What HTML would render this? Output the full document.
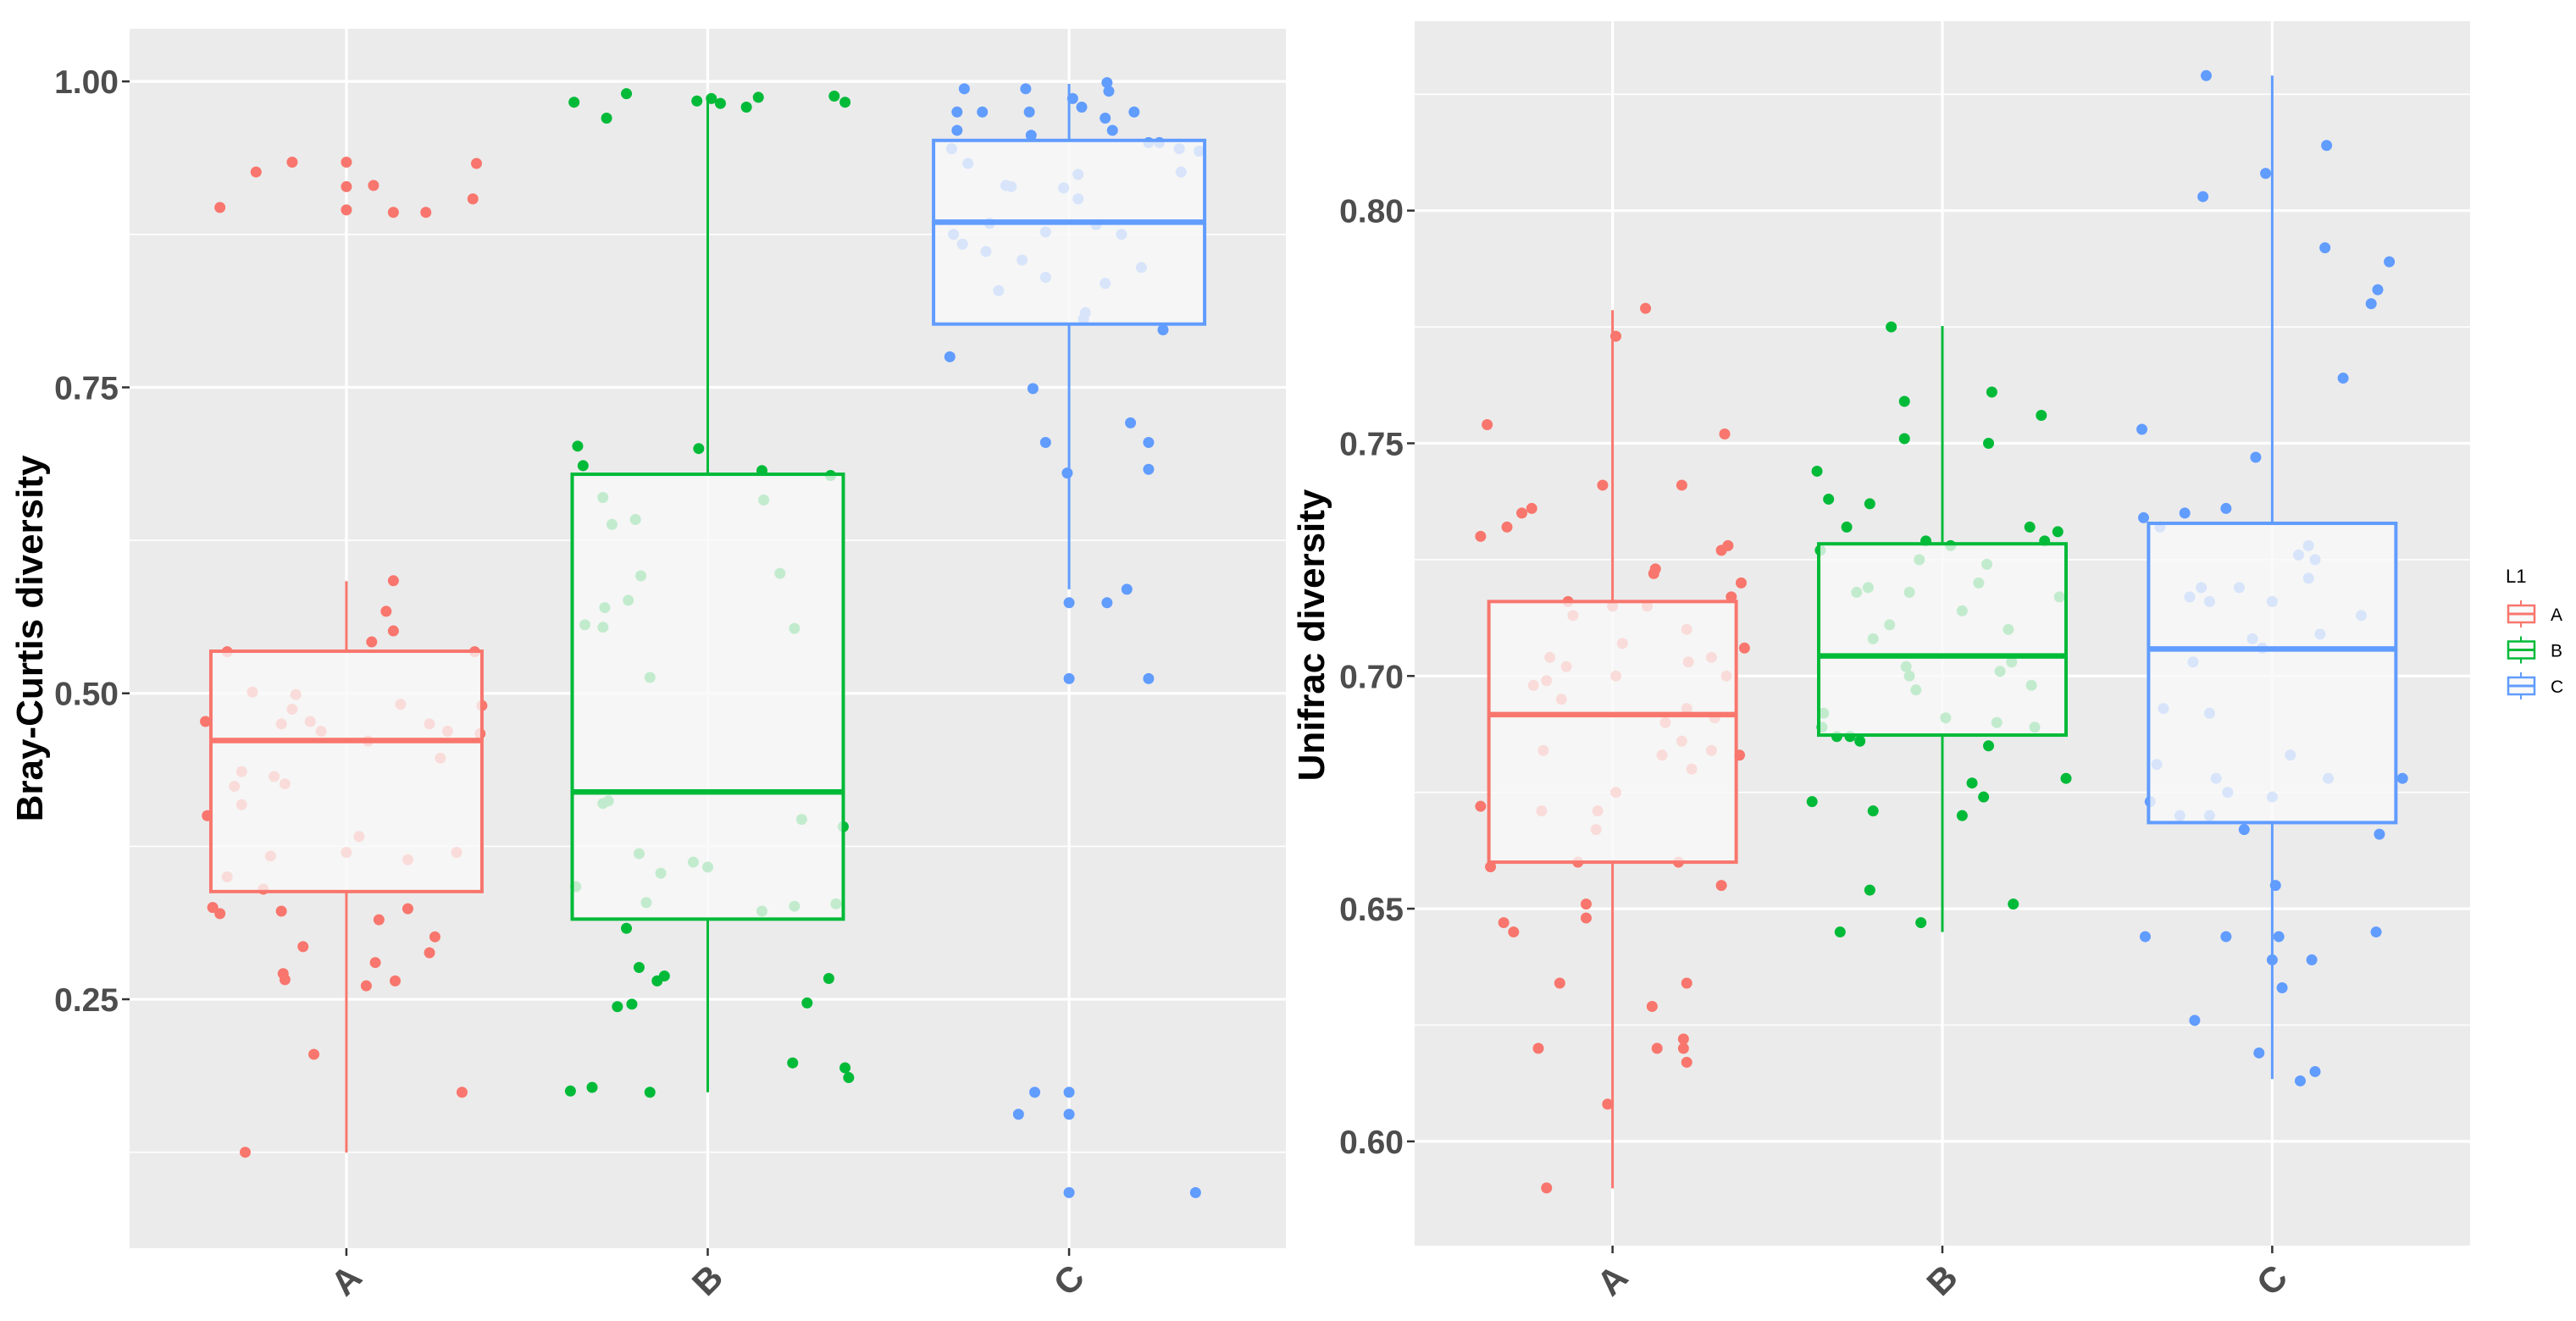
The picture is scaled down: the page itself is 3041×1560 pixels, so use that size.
<!DOCTYPE html>
<html><head><meta charset="utf-8"><style>
html,body{margin:0;padding:0;background:#fff;}
svg{display:block;font-family:"Liberation Sans",Arial,sans-serif;}
</style></head><body>
<svg id="chart" width="3041" height="1560" viewBox="0 0 3041 1560" xmlns="http://www.w3.org/2000/svg"></svg>
<script>
const categories = ["A","B","C"];
const colors = ["#F8766D","#00BA38","#619CFF"];
const leftTicks = [0.25,0.50,0.75,1.00];
const leftTickLabels = ["0.25","0.50","0.75","1.00"];
const rightTicks = [0.60,0.65,0.70,0.75,0.80];
const rightTickLabels = ["0.60","0.65","0.70","0.75","0.80"];
// box stats: [lowerWhisker, q1, median, q3, upperWhisker]
const leftBoxes = [[0.1247,0.338,0.4614,0.5344,0.5916],[0.174,0.3155,0.4194,0.679,0.9855],[0.585,0.8017,0.885,0.9518,0.998]];
const rightBoxes = [[0.5899,0.66,0.6917,0.716,0.7786],[0.645,0.6873,0.7043,0.7284,0.7752],[0.6134,0.6685,0.7058,0.7328,0.829]];
// jittered points: [jitter offset, value]
const leftA = [[-0.35,0.897],[-0.25,0.926],[-0.15,0.934],[0,0.934],[0,0.914],[0,0.895],[0.075,0.915],[0.13,0.893],[0.22,0.893],[0.35,0.904],[0.36,0.933],[0.13,0.592],[0.11,0.567],[0.13,0.551],[0.07,0.542],[-0.33,0.534],[0.355,0.534],[-0.26,0.501],[-0.14,0.499],[-0.15,0.487],[-0.18,0.475],[-0.10,0.477],[-0.07,0.469],[-0.39,0.477],[0.15,0.491],[0.23,0.475],[0.28,0.469],[0.375,0.490],[0.37,0.467],[0.06,0.461],[0.26,0.447],[-0.29,0.436],[-0.31,0.424],[-0.20,0.432],[-0.17,0.426],[-0.29,0.409],[-0.385,0.400],[0.035,0.383],[0,0.370],[-0.21,0.367],[0.17,0.364],[0.305,0.370],[-0.33,0.350],[-0.23,0.340],[-0.37,0.325],[-0.35,0.320],[-0.18,0.322],[0.17,0.324],[0.09,0.315],[0.245,0.301],[-0.12,0.293],[0.23,0.288],[0.08,0.280],[-0.175,0.271],[-0.17,0.266],[0.055,0.261],[0.135,0.265],[-0.09,0.205],[0.32,0.174],[-0.28,0.125]];
const leftB = [[-0.37,0.983],[-0.28,0.970],[-0.225,0.990],[-0.03,0.984],[0.01,0.986],[0.035,0.982],[0.107,0.979],[0.14,0.987],[0.35,0.988],[0.38,0.983],[-0.36,0.702],[-0.345,0.686],[-0.025,0.700],[0.15,0.682],[0.34,0.678],[-0.29,0.660],[0.155,0.658],[-0.265,0.638],[-0.20,0.642],[-0.185,0.596],[0.20,0.598],[-0.285,0.570],[-0.22,0.576],[-0.34,0.556],[-0.29,0.554],[0.24,0.553],[-0.16,0.513],[-0.29,0.410],[-0.275,0.412],[0.26,0.397],[0.375,0.391],[-0.19,0.369],[-0.04,0.362],[0,0.358],[-0.13,0.353],[-0.365,0.342],[-0.17,0.329],[0.24,0.326],[0.355,0.328],[0.15,0.322],[-0.225,0.308],[-0.19,0.276],[-0.14,0.265],[-0.12,0.269],[0.335,0.267],[-0.25,0.244],[-0.21,0.246],[0.275,0.247],[0.235,0.198],[0.38,0.194],[0.39,0.186],[-0.38,0.175],[-0.32,0.178],[-0.16,0.174]];
const leftC = [[-0.29,0.994],[-0.12,0.994],[0.105,0.999],[0.11,0.992],[0.01,0.986],[0.035,0.979],[-0.31,0.975],[-0.24,0.975],[-0.11,0.975],[0.10,0.970],[0.18,0.975],[-0.31,0.960],[0.12,0.960],[-0.105,0.956],[-0.325,0.945],[0.22,0.950],[0.25,0.950],[0.305,0.945],[0.36,0.943],[-0.28,0.933],[0.31,0.926],[0.025,0.924],[-0.175,0.915],[-0.16,0.914],[-0.015,0.913],[0.025,0.904],[-0.22,0.884],[-0.065,0.877],[0.075,0.883],[-0.32,0.875],[0.145,0.875],[-0.295,0.867],[-0.23,0.861],[-0.13,0.854],[0.20,0.848],[-0.065,0.840],[0.10,0.835],[-0.195,0.829],[0.045,0.811],[0.04,0.806],[0.26,0.797],[-0.33,0.775],[-0.10,0.749],[0.17,0.721],[-0.065,0.705],[0.22,0.705],[0.22,0.683],[-0.005,0.680],[0.16,0.585],[0,0.574],[0.105,0.574],[0,0.512],[0.22,0.512],[-0.095,0.174],[0,0.174],[-0.14,0.156],[0,0.156],[0,0.092],[0.35,0.092]];
const rightA = [[0.10,0.779],[0.01,0.773],[-0.38,0.754],[0.34,0.752],[-0.03,0.741],[0.21,0.741],[-0.245,0.736],[-0.275,0.735],[-0.32,0.732],[-0.40,0.730],[0.35,0.728],[0.33,0.727],[0.13,0.723],[0.125,0.722],[0.39,0.720],[-0.135,0.716],[0.36,0.717],[0,0.715],[0.105,0.715],[-0.12,0.713],[0.225,0.710],[0.03,0.707],[0.40,0.706],[-0.19,0.704],[0.23,0.703],[0.30,0.704],[-0.14,0.702],[0.01,0.700],[0.345,0.700],[-0.20,0.699],[-0.24,0.698],[-0.155,0.695],[0.225,0.693],[0.16,0.690],[0.31,0.691],[-0.21,0.684],[0.21,0.686],[0.15,0.683],[0.385,0.683],[0.24,0.680],[0.30,0.684],[0.01,0.675],[-0.40,0.672],[-0.045,0.671],[-0.215,0.671],[-0.05,0.667],[-0.105,0.660],[0.20,0.660],[-0.37,0.659],[0.33,0.655],[-0.08,0.651],[-0.08,0.648],[-0.33,0.647],[-0.30,0.645],[-0.16,0.634],[0.225,0.634],[0.12,0.629],[-0.225,0.620],[0.135,0.620],[0.215,0.622],[0.215,0.620],[0.225,0.617],[-0.015,0.608],[-0.20,0.590]];
const rightB = [[-0.155,0.775],[-0.115,0.759],[0.15,0.761],[-0.115,0.751],[0.14,0.750],[0.30,0.756],[-0.38,0.744],[-0.345,0.738],[-0.22,0.737],[-0.29,0.732],[0.265,0.732],[0.35,0.731],[-0.05,0.729],[0.025,0.728],[0.31,0.729],[-0.37,0.727],[0.135,0.724],[-0.07,0.725],[-0.225,0.719],[-0.26,0.718],[0.11,0.720],[-0.10,0.718],[0.355,0.717],[0.06,0.714],[-0.16,0.711],[0.20,0.710],[-0.21,0.708],[-0.11,0.702],[-0.10,0.700],[0.21,0.703],[0.175,0.701],[0.27,0.698],[-0.08,0.697],[-0.36,0.692],[0.01,0.691],[0.165,0.690],[-0.365,0.689],[0.28,0.689],[-0.32,0.687],[-0.28,0.687],[-0.25,0.686],[0.14,0.685],[0.375,0.678],[0.09,0.677],[-0.395,0.673],[0.125,0.674],[-0.21,0.671],[0.06,0.670],[-0.22,0.654],[0.215,0.651],[-0.065,0.647],[-0.31,0.645]];
const rightC = [[-0.20,0.829],[0.165,0.814],[-0.02,0.808],[-0.21,0.803],[0.16,0.792],[0.355,0.789],[0.32,0.783],[0.30,0.780],[0.215,0.764],[-0.395,0.753],[-0.05,0.747],[-0.14,0.736],[-0.265,0.735],[-0.39,0.734],[-0.34,0.732],[0.11,0.728],[0.08,0.726],[0.13,0.725],[0.11,0.721],[-0.10,0.719],[-0.215,0.719],[-0.25,0.717],[-0.19,0.716],[0,0.716],[0.27,0.713],[0.145,0.709],[-0.06,0.708],[-0.03,0.706],[-0.24,0.703],[-0.33,0.693],[-0.19,0.692],[-0.35,0.681],[0.055,0.683],[0.395,0.678],[0.17,0.678],[-0.17,0.678],[-0.135,0.675],[0,0.674],[-0.37,0.673],[-0.28,0.670],[-0.19,0.670],[-0.085,0.667],[0.325,0.666],[0.01,0.655],[0.315,0.645],[-0.385,0.644],[-0.14,0.644],[0.02,0.644],[0.12,0.639],[0,0.639],[0.03,0.633],[-0.235,0.626],[-0.04,0.619],[0.13,0.615],[0.085,0.613]];

const NS = "http://www.w3.org/2000/svg";
const svg = document.getElementById("chart");
function mk(tag, attrs, parent){
  const e = document.createElementNS(NS, tag);
  for (const k in attrs) e.setAttribute(k, attrs[k]);
  (parent||svg).appendChild(e);
  return e;
}

function drawPanel(p){
  const g = mk("g", {});
  
  
  const y = v => p.top + (p.vmax - v) / (p.vmax - p.vmin) * (p.bottom - p.top);
  const step = (p.right - p.left) / 3.2;
  const x = i => p.left + (i + 0.6) * step;
  const bg = mk("rect", {x:p.left, y:p.top, width:p.right-p.left, height:p.bottom-p.top, fill:"#EBEBEB"}, g);
  
  
  for (let i = 0; i < p.ticks.length + 1; i++){
    const d = p.ticks[1]-p.ticks[0];
    const mv = p.ticks[0] - d/2 + i*d;
    if (mv > p.vmin && mv < p.vmax){
      const l = mk("line", {x1:p.left, x2:p.right, y1:y(mv), y2:y(mv), stroke:"#fff", "stroke-width":1.6}, g);
      
      
    }
  }
  p.ticks.forEach((t, i) => {
    const l = mk("line", {x1:p.left, x2:p.right, y1:y(t), y2:y(t), stroke:"#fff", "stroke-width":3.2}, g);
    
    
    const tk = mk("line", {x1:p.left-9, x2:p.left, y1:y(t), y2:y(t), stroke:"#333", "stroke-width":2.5}, g);
    
    
    const tx = mk("text", {x:p.left-13, y:y(t)+14, "text-anchor":"end", "font-size":39, "font-weight":"bold", fill:"#4D4D4D"}, g);
    tx.textContent = p.tickLabels[i];
    
    
  });
  categories.forEach((c, i) => {
    const l = mk("line", {x1:x(i), x2:x(i), y1:p.top, y2:p.bottom, stroke:"#fff", "stroke-width":3.2}, g);
    
    
    const tk = mk("line", {x1:x(i), x2:x(i), y1:p.bottom, y2:p.bottom+9, stroke:"#333", "stroke-width":2.5}, g);
    
    
    const tx = mk("text", {x:x(i), y:1526, "text-anchor":"middle", "font-size":42, "font-weight":"bold", fill:"#4D4D4D", transform:`rotate(-45 ${x(i)} 1512)`}, g);
    tx.textContent = c;
    
    
  });
  p.points.forEach((pts, i) => {
    pts.forEach(pt => {
      const ci = mk("circle", {cx:x(i)+pt[0]*step, cy:y(pt[1]), r:6.5, fill:colors[i]}, g);
      
      
    });
  });
  p.boxes.forEach((b, i) => {
    const hw = p.boxHalf;
    const wu = mk("line", {x1:x(i), x2:x(i), y1:y(b[3]), y2:y(b[4]), stroke:colors[i], "stroke-width":3}, g);
    
    
    const wl = mk("line", {x1:x(i), x2:x(i), y1:y(b[1]), y2:y(b[0]), stroke:colors[i], "stroke-width":3}, g);
    
    
    const r = mk("rect", {x:x(i)-hw, y:y(b[3]), width:2*hw, height:y(b[1])-y(b[3]), fill:"#F9F9F9", "fill-opacity":0.78, stroke:colors[i], "stroke-width":4}, g);
    
    
    const m = mk("line", {x1:x(i)-hw, x2:x(i)+hw, y1:y(b[2]), y2:y(b[2]), stroke:colors[i], "stroke-width":6.5}, g);
    
    
  });
  const t = mk("text", {x:p.titleX, y:p.titleY, "text-anchor":"middle", "font-size":44, "font-weight":"bold", fill:"#000", transform:`rotate(-90 ${p.titleX} ${p.titleY})`}, g);
  t.textContent = p.title;
  
  
}

drawPanel({name:"bray-curtis-panel", left:153, right:1518, top:34, bottom:1474, vmin:0.0466, vmax:1.043,
  ticks:leftTicks, tickLabels:leftTickLabels, boxes:leftBoxes, points:[leftA,leftB,leftC], boxHalf:160,
  title:"Bray-Curtis diversity", titleX:50, titleY:754});
drawPanel({name:"unifrac-panel", left:1670, right:2916, top:25, bottom:1471, vmin:0.5776, vmax:0.8407,
  ticks:rightTicks, tickLabels:rightTickLabels, boxes:rightBoxes, points:[rightA,rightB,rightC], boxHalf:146,
  title:"Unifrac diversity", titleX:1563, titleY:750});

const lg = mk("g", {});


const lt = mk("text", {x:2958, y:688, "font-size":22, fill:"#000"}, lg);
lt.textContent = "L1";


categories.forEach((c, i) => {
  const cy = 725 + i*42.5;
  const e = mk("g", {}, lg);
  
  
  mk("line", {x1:2976, x2:2976, y1:cy-16, y2:cy+16, stroke:colors[i], "stroke-width":2}, e);
  mk("rect", {x:2961, y:cy-10, width:31, height:20, fill:"#F9F9F9", stroke:colors[i], "stroke-width":2.5}, e);
  mk("line", {x1:2961, x2:2992, y1:cy, y2:cy, stroke:colors[i], "stroke-width":3}, e);
  const tx = mk("text", {x:3011, y:cy+8, "font-size":21, fill:"#000"}, e);
  tx.textContent = c;
  
  
});
</script>
</body></html>
